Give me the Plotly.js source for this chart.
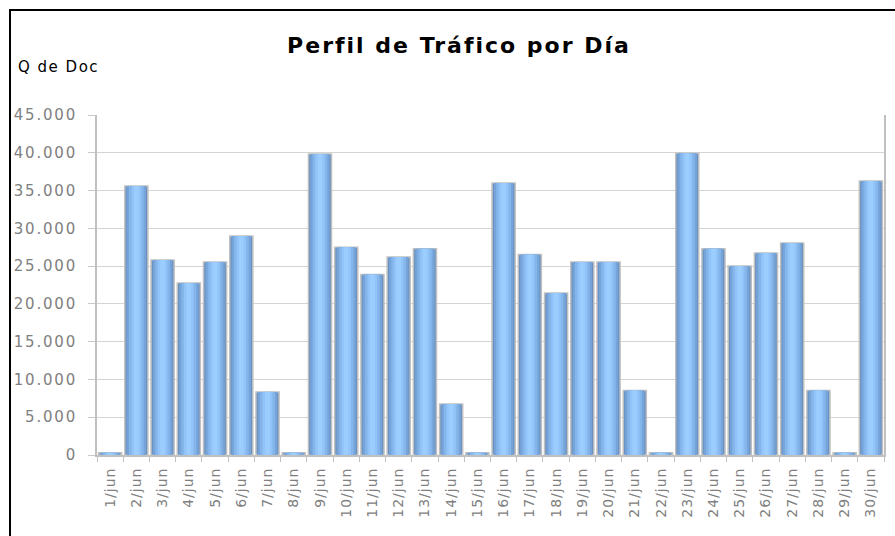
<!DOCTYPE html>
<html>
<head>
<meta charset="utf-8">
<script src="https://cdn.plot.ly/plotly-3.0.1.min.js"></script>
<style>
  html, body { margin: 0; padding: 0; background: #fff; }
  #wrap { position: relative; width: 895px; height: 536px; overflow: hidden; }
  #chart { width: 895px; height: 536px; }
  #frame { position: absolute; left: 9px; top: 9px; width: 884px; height: 540px;
           border-top: 2px solid #000; border-left: 2px solid #000; pointer-events: none; }
  #chart text { letter-spacing: 1px; }
  #chart .gtitle { letter-spacing: 2px; }
  #chart .ytick text { letter-spacing: 1.8px; }
  #chart .annotation-text { letter-spacing: 1.5px; }
</style>
</head>
<body>
<div id="wrap">
  <div id="chart"></div>
  <div id="frame"></div>
</div>
<script>
const days = ["1/jun","2/jun","3/jun","4/jun","5/jun","6/jun","7/jun","8/jun","9/jun","10/jun",
  "11/jun","12/jun","13/jun","14/jun","15/jun","16/jun","17/jun","18/jun","19/jun","20/jun",
  "21/jun","22/jun","23/jun","24/jun","25/jun","26/jun","27/jun","28/jun","29/jun","30/jun"];
const docs = [300, 35600, 25800, 22750, 25550, 29000, 8350, 300, 39850, 27500,
  23900, 26200, 27300, 6750, 300, 36000, 26550, 21450, 25550, 25550,
  8550, 300, 39950, 27300, 25000, 26750, 28050, 8550, 300, 36250];
const chartTitle = "Perfil de Tráfico por Día";
const yLabel = "Q de Doc";

// layered bars to imitate the cylindrical shading
const layers = [
  {w: 0.88, c: "#6890c0", line: {color: "#c0c0c0", width: 1.5}},
  {w: 0.74, c: "#76a4d8", line: {width: 0}},
  {w: 0.56, c: "#85b6eb", line: {width: 0}},
  {w: 0.36, c: "#92c4f9", line: {width: 0}},
  {w: 0.18, c: "#9bcdff", line: {width: 0}}
];
const traces = layers.map(L => ({
  type: "bar", x: days, y: docs,
  width: days.map(() => L.w),
  marker: {color: L.c, line: L.line},
  hoverinfo: "skip", showlegend: false
}));

const layout = {
  width: 895, height: 536,
  margin: {l: 97, r: 11, t: 115, b: 81},
  paper_bgcolor: "#fff", plot_bgcolor: "#fff",
  barmode: "overlay",
  separators: ",.",
  font: {family: "DejaVu Sans, Verdana, sans-serif", color: "#808080"},
  title: {text: "<b>" + chartTitle + "</b>", x: 459/895, xref: "container", xanchor: "center",
          y: 1 - 45/536, yref: "container", yanchor: "middle",
          font: {size: 22, color: "#000", family: "DejaVu Sans, Verdana, sans-serif"}},
  xaxis: {type: "category", tickson: "boundaries", ticks: "outside", ticklen: 5,
          tickcolor: "#c0c0c0", tickwidth: 1, tickangle: -90, ticklabelstandoff: 5,
          tickfont: {size: 14, color: "#808080"},
          showline: true, linecolor: "#c0c0c0", linewidth: 2,
          showgrid: false, zeroline: false, fixedrange: true},
  yaxis: {range: [0, 45000], dtick: 5000, tickformat: ",d", ticks: "outside", ticklen: 7,
          tickcolor: "#c8c8c8", tickwidth: 1, ticklabelstandoff: 8,
          tickfont: {size: 15, color: "#808080"},
          showline: true, linecolor: "#c0c0c0", linewidth: 2, mirror: true,
          gridcolor: "#d4d4d4", gridwidth: 1, zeroline: false, fixedrange: true},
  annotations: [{text: yLabel, xref: "paper", yref: "paper", x: (22 - 97) / 787, y: (455 - 67) / 340,
                 xanchor: "left", yanchor: "middle", showarrow: false,
                 font: {size: 15, color: "#000"}}],
  hovermode: false
};
Plotly.newPlot("chart", traces, layout, {displayModeBar: false, staticPlot: true});
</script>
</body>
</html>
